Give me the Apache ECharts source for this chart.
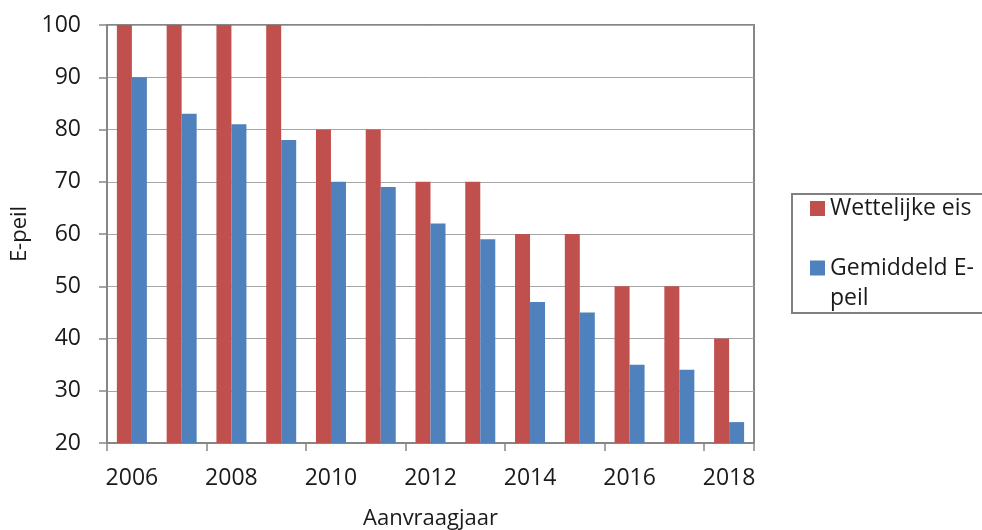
<!DOCTYPE html>
<html>
<head>
<meta charset="utf-8">
<script src="https://cdn.jsdelivr.net/npm/echarts@6/dist/echarts.min.js"></script>
<style>html,body{margin:0;padding:0;background:#fff}#c{width:982px;height:530px}</style>
</head>
<body>
<div id="c"></div>
<script>
var years = ['2006','2007','2008','2009','2010','2011','2012','2013','2014','2015','2016','2017','2018'];
var wettelijkeEis = [100, 100, 100, 100, 80, 80, 70, 70, 60, 60, 50, 50, 40];
var gemiddeldEpeil = [90, 83, 81, 78, 70, 69, 62, 59, 47, 45, 35, 34, 24];
var seriesNames = ['Wettelijke eis', 'Gemiddeld E-peil'];

var FONT = 'Open Sans';
var TXT = '#1a1a1a';
var chart = echarts.init(document.getElementById('c'), null, {renderer: 'canvas'});
chart.setOption({
  animation: false,
  backgroundColor: '#fff',
  textStyle: {fontFamily: FONT},
  grid: {left: 107, right: 228, top: 25, bottom: 87, show: true, borderColor: '#868686', borderWidth: 2, containLabel: false, outerBoundsMode: 'none'},
  legend: {
    orient: 'vertical',
    left: 792, top: 194,
    padding: [3, 40, 0, 18],
    borderColor: '#808080', borderWidth: 2,
    itemWidth: 15, itemHeight: 15, itemGap: 3,
    icon: 'rect',
    data: [
      {name: seriesNames[0], textStyle: {lineHeight: 20}},
      {name: seriesNames[1], textStyle: {lineHeight: 30}}
    ],
    formatter: function (n) { return n === seriesNames[1] ? '\nGemiddeld E-\npeil' : n; },
    textStyle: {fontFamily: FONT, fontSize: 23, color: TXT}
  },
  xAxis: {
    type: 'category',
    data: years,
    name: 'Aanvraagjaar',
    nameLocation: 'middle',
    nameGap: 65,
    nameTextStyle: {fontFamily: FONT, fontSize: 22, color: TXT},
    axisLine: {lineStyle: {color: '#868686', width: 2}},
    axisTick: {show: true, length: 8, lineStyle: {color: '#868686', width: 1.5}},
    axisLabel: {interval: 1, fontFamily: FONT, fontSize: 23, color: TXT, margin: 24},
    splitLine: {show: false}
  },
  yAxis: {
    type: 'value',
    min: 20, max: 100, interval: 10,
    name: 'E-peil',
    nameLocation: 'middle',
    nameGap: 67,
    nameTextStyle: {fontFamily: FONT, fontSize: 22, color: TXT},
    axisLine: {show: true, lineStyle: {color: '#868686', width: 2}},
    axisTick: {show: true, length: 8, lineStyle: {color: '#868686', width: 1.5}},
    axisLabel: {fontFamily: FONT, fontSize: 23, color: TXT, margin: 26},
    splitLine: {lineStyle: {color: '#a6a6a6', width: 1}}
  },
  series: [
    {name: seriesNames[0], type: 'bar', data: wettelijkeEis, barWidth: 15, barGap: '0%', itemStyle: {color: '#C0504D'}},
    {name: seriesNames[1], type: 'bar', data: gemiddeldEpeil, barWidth: 15, barGap: '0%', itemStyle: {color: '#4F81BD'}}
  ]
});
</script>
</body>
</html>
